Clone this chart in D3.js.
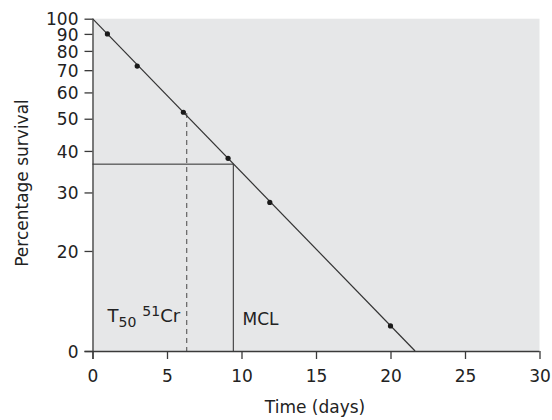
<!DOCTYPE html>
<html>
<head>
<meta charset="utf-8">
<script src="https://cdn.jsdelivr.net/npm/d3@7"></script>
<style>
  html, body { margin: 0; padding: 0; background: #fff; }
  svg { display: block; font-family: "DejaVu Sans", sans-serif; }
</style>
</head>
<body>
<svg id="chart" width="552" height="420"></svg>
<script>
// ---- data ----
const days = [1, 3, 6.1, 9.1, 11.9, 20];
const survival = [90, 72, 52.3, 38, 28, 11.9];
const fitDays = [0, 21.65];
const fitSurvival = [100, 10];
const xTicks = [0, 5, 10, 15, 20, 25, 30];
const yTicks = [10, 20, 30, 40, 50, 60, 70, 80, 90, 100];
const yTickLabels = ["0", "20", "30", "40", "50", "60", "70", "80", "90", "100"];
const t50Day = 6.32;
const t50Range = [52, 10];
const mclDay = 9.45;
const mclValue = 36.5;

// ---- layout ----
const svg = d3.select("#chart");
const x = d3.scaleLinear().domain([0, 30]).range([92.5, 539.5]);
const y = d3.scaleLog().domain([10, 100]).range([351, 18.7]);
const axisColor = "#3a3a3a";

// background
svg.append("rect")
  .attr("x", x(0)).attr("y", y(100))
  .attr("width", x(30) - x(0)).attr("height", y(10) - y(100))
  .attr("fill", "#e6e7e8");

// reference lines
svg.append("line")
  .attr("x1", x(t50Day)).attr("x2", x(t50Day))
  .attr("y1", y(t50Range[0])).attr("y2", y(t50Range[1]))
  .attr("stroke", "#6d6d6d").attr("stroke-width", 1.3)
  .attr("stroke-dasharray", "5,4");

svg.append("line")
  .attr("x1", x(0)).attr("x2", x(mclDay))
  .attr("y1", y(mclValue)).attr("y2", y(mclValue))
  .attr("stroke", "#2a2a2a").attr("stroke-width", 1);
svg.append("line")
  .attr("x1", x(mclDay)).attr("x2", x(mclDay))
  .attr("y1", y(mclValue)).attr("y2", y(10))
  .attr("stroke", "#2a2a2a").attr("stroke-width", 1);

// fit line
const fit = fitDays.map((d, i) => [d, fitSurvival[i]]);
svg.append("path")
  .datum(fit)
  .attr("d", d3.line().x(d => x(d[0])).y(d => y(d[1])))
  .attr("fill", "none").attr("stroke", "#333").attr("stroke-width", 1.2);

// points
svg.selectAll("circle.pt")
  .data(days.map((d, i) => [d, survival[i]]))
  .join("circle")
  .attr("class", "pt")
  .attr("cx", d => x(d[0])).attr("cy", d => y(d[1]))
  .attr("r", 2.6).attr("fill", "#1a1a1a");

// axes
const xAxis = d3.axisBottom(x).tickValues(xTicks).tickSize(8).tickPadding(11)
  .tickFormat(d3.format("d"));
const gx = svg.append("g").attr("transform", `translate(0,${y(10)})`).call(xAxis);
gx.select(".domain").attr("d", `M${x(0) - 8},0.5H${x(30)}`);

const yAxis = d3.axisLeft(y).tickValues(yTicks).tickSize(8).tickPadding(6)
  .tickFormat((d, i) => yTickLabels[i]);
const gy = svg.append("g").attr("transform", `translate(${x(0)},0)`).call(yAxis);
gy.select(".domain").attr("d", `M0.5,${y(100)}V${y(10) + 8}`);

[gx, gy].forEach(g => {
  g.selectAll(".domain").attr("stroke", axisColor).attr("stroke-width", 1.3).attr("fill", "none");
  g.selectAll(".tick line").attr("stroke", axisColor).attr("stroke-width", 1.3);
  g.selectAll(".tick text")
    .attr("fill", "#222")
    .style("font-family", '"DejaVu Sans", sans-serif')
    .style("font-size", "17px");
});
gy.selectAll(".tick text").attr("dy", "0.36em");

// axis titles
svg.append("text")
  .attr("x", 315).attr("y", 413)
  .attr("text-anchor", "middle")
  .attr("fill", "#222")
  .style("font-size", "17px")
  .text("Time (days)");

svg.append("text")
  .attr("transform", "translate(28,183) rotate(-90)")
  .attr("text-anchor", "middle")
  .attr("fill", "#222")
  .style("font-size", "17px")
  .text("Percentage survival");

// annotations
const t50 = svg.append("text")
  .attr("x", 107.5).attr("y", 321.5)
  .attr("fill", "#222")
  .style("font-size", "18px");
t50.append("tspan").text("T");
t50.append("tspan").attr("dy", 5).style("font-size", "14px").text("50");
t50.append("tspan").attr("dx", 6).attr("dy", -11).style("font-size", "14px").text("51");
t50.append("tspan").attr("dy", 6).text("Cr");

svg.append("text")
  .attr("x", 242.5).attr("y", 325)
  .attr("fill", "#222")
  .style("font-size", "17px")
  .text("MCL");
</script>
</body>
</html>
